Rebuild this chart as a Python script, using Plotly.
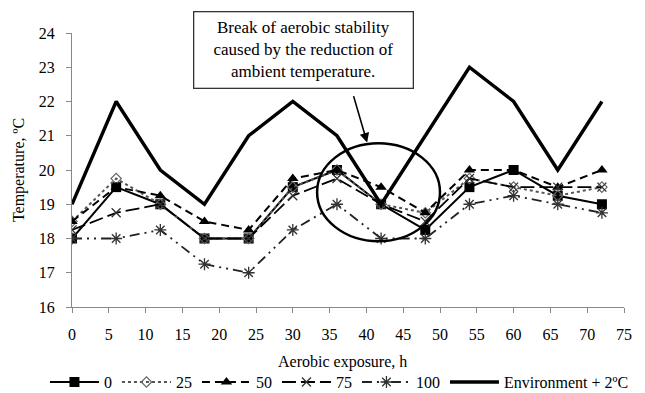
import plotly.graph_objects as go

hours = [0, 6, 12, 18, 24, 30, 36, 42, 48, 54, 60, 66, 72]
s0 = [18.0, 19.5, 19.0, 18.0, 18.0, 19.5, 20.0, 19.0, 18.25, 19.5, 20.0, 19.25, 19.0]
s25 = [18.5, 19.75, 19.0, 18.0, 18.0, 19.5, 20.0, 19.0, 18.75, 19.75, 19.5, 19.25, 19.5]
s50 = [18.5, 19.5, 19.25, 18.5, 18.25, 19.75, 20.0, 19.5, 18.75, 20.0, 20.0, 19.5, 20.0]
s75 = [18.25, 18.75, 19.0, 18.0, 18.0, 19.25, 19.75, 19.0, 18.5, 19.75, 19.5, 19.5, 19.5]
s100 = [18.0, 18.0, 18.25, 17.25, 17.0, 18.25, 19.0, 18.0, 18.0, 19.0, 19.25, 19.0, 18.75]
env = [19, 22, 20, 19, 21, 22, 21, 19, 21, 23, 22, 20, 22]

names = ["0", "25", "50", "75", "100", "Environment + 2ºC"]
x_ticks = list(range(0, 80, 5))
y_ticks = list(range(16, 25))

FONT = "Liberation Serif"

fig = go.Figure()

fig.add_trace(go.Scatter(x=hours, y=s0, name=names[0], mode="lines+markers",
                         line=dict(color="black", width=2, dash="solid"),
                         marker=dict(symbol="square", size=10, color="black")))
fig.add_trace(go.Scatter(x=hours, y=s25, name=names[1], mode="lines+markers",
                         line=dict(color="#555", width=2, dash="dot"),
                         marker=dict(symbol="diamond-open", size=8, color="#666",
                                     line=dict(width=1.2))))
fig.add_trace(go.Scatter(x=hours, y=s50, name=names[2], mode="lines+markers",
                         line=dict(color="black", width=2, dash="8px,5px"),
                         marker=dict(symbol="triangle-up", size=10, color="black")))
fig.add_trace(go.Scatter(x=hours, y=s75, name=names[3], mode="lines+markers",
                         line=dict(color="black", width=1.8, dash="14px,5px"),
                         marker=dict(symbol="x-thin-open", size=9, color="#333",
                                     line=dict(width=1.3, color="#333"))))
fig.add_trace(go.Scatter(x=hours, y=s100, name=names[4], mode="lines+markers",
                         line=dict(color="#222", width=1.8, dash="10px,5px,2px,5px,2px,5px"),
                         marker=dict(symbol="asterisk-open", size=10, color="#333",
                                     line=dict(width=1.3, color="#333"))))
fig.add_trace(go.Scatter(x=hours, y=env, name=names[5], mode="lines",
                         line=dict(color="black", width=3.4)))

# ellipse highlighting the break of aerobic stability
fig.add_shape(type="circle", xref="x", yref="y", x0=33.3, x1=50.0, y0=17.92, y1=20.78,
              line=dict(color="black", width=2.5))

# arrow
fig.add_annotation(x=40.1, y=20.8, xref="x", yref="y", ax=-14, ay=-48,
                   showarrow=True, arrowhead=2, arrowsize=1.2, arrowwidth=1.6,
                   arrowcolor="black", text="")

# text box
fig.add_annotation(xref="paper", yref="paper", x=0.4185, y=0.938,
                   xanchor="center", yanchor="middle", showarrow=False,
                   text="Break of aerobic stability<br>caused by the reduction of<br>ambient temperature.",
                   font=dict(family=FONT, size=17, color="black"),
                   align="center", width=216, height=73,
                   bordercolor="#333", borderwidth=1.3, borderpad=1, bgcolor="white")

# x-axis title
fig.add_annotation(xref="paper", yref="paper", x=0.49, y=-0.2,
                   xanchor="center", yanchor="middle", showarrow=False,
                   text="Aerobic exposure, h",
                   font=dict(family=FONT, size=16, color="black"))

fig.update_layout(
    width=645, height=393,
    margin=dict(l=72, r=21, t=33, b=86, autoexpand=False),
    paper_bgcolor="white", plot_bgcolor="white",
    font=dict(family=FONT, size=16, color="black"),
    showlegend=True,
    legend=dict(orientation="h", x=-0.049, xanchor="left",
                y=-0.274, yanchor="middle",
                font=dict(family=FONT, size=16), itemwidth=49,
                tracegroupgap=0, bgcolor="rgba(0,0,0,0)"),
)

fig.update_xaxes(range=[0, 75], tickvals=x_ticks, showgrid=False, zeroline=False,
                 showline=True, linecolor="#888", linewidth=1,
                 ticks="outside", ticklen=5, tickcolor="#888", ticklabelstandoff=8,
                 tickfont=dict(family=FONT, size=16))
fig.update_yaxes(range=[16, 24], tickvals=y_ticks, showgrid=False, zeroline=False,
                 showline=True, linecolor="#888", linewidth=1,
                 ticks="outside", ticklen=5, tickcolor="#888", ticklabelstandoff=8,
                 title=dict(text="Temperature, ºC", standoff=10,
                            font=dict(family=FONT, size=16)),
                 tickfont=dict(family=FONT, size=16))

fig.write_html("out.html")
